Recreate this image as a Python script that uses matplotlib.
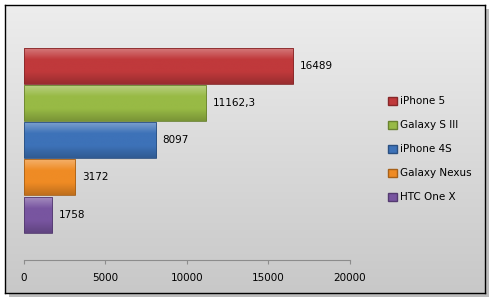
import numpy as np
import matplotlib.pyplot as plt
from matplotlib.patches import Rectangle, Patch
from matplotlib.colors import LinearSegmentedColormap, to_rgb

# data
phones = ['iPhone 5', 'Galaxy S III', 'iPhone 4S', 'Galaxy Nexus', 'HTC One X']
scores = [16489, 11162.3, 8097, 3172, 1758]
colors = ['#c0393b', '#98ba45', '#3d72b8', '#ef8b24', '#7855a0']
xticks = [0, 5000, 10000, 15000, 20000]


def shade(c, f):
    r = np.array(to_rgb(c))
    if f > 0:
        return tuple(r + (1 - r) * f)
    return tuple(r * (1 + f))


W, H = 497, 300
fig = plt.figure(figsize=(W / 100, H / 100), dpi=100)
fig.patch.set_facecolor('white')

# shadow axes behind frame
sh = fig.add_axes([9 / W, 3 / H, 480 / W, 288 / H], zorder=-2)
sh.set_facecolor('#bdbdbd')
sh.set_xticks([])
sh.set_yticks([])
for s in sh.spines.values():
    s.set_visible(False)

# gradient frame
bg = fig.add_axes([5 / W, 7 / H, 480 / W, 288 / H], zorder=-1)
grad = np.linspace(0, 1, 256).reshape(-1, 1)
bg_cmap = LinearSegmentedColormap.from_list('bg', ['#ededed', '#c8c8c8'])
bg.imshow(grad, aspect='auto', cmap=bg_cmap, extent=[0, 1, 0, 1], origin='upper')
bg.set_xticks([])
bg.set_yticks([])
for s in bg.spines.values():
    s.set_color('black')
    s.set_linewidth(1)

ax = fig.add_axes([23.5 / W, (300 - 259.5) / H, (350 - 23.5) / W, (259.5 - 21) / H])
ax.patch.set_alpha(0)

ypos = np.arange(len(phones))[::-1]
bh = 0.97
for y, v, c in zip(ypos, scores, colors):
    cm = LinearSegmentedColormap.from_list('b', [shade(c, 0.35), c, c, shade(c, -0.2)])
    im = ax.imshow(np.linspace(0, 1, 64).reshape(-1, 1), aspect='auto', cmap=cm,
                   extent=[0, v, y - bh / 2, y + bh / 2], origin='upper', zorder=2)
    rect = Rectangle((0, y - bh / 2), v, bh, facecolor='none',
                     edgecolor=shade(c, -0.3), linewidth=0.6, zorder=3)
    ax.add_patch(rect)
    im.set_clip_path(rect)
    lab = ('%g' % v).replace('.', ',')
    ax.annotate(lab, (v, y), xytext=(5, 0), textcoords='offset points',
                va='center', ha='left', fontsize=7.5, color='black')

ax.set_xlim(0, 20000)
ax.set_ylim(-1.21, 4 + 1.21)
ax.set_xticks(xticks)
ax.set_xticklabels([str(t) for t in xticks], fontsize=7.5)
ax.set_yticks([])
for s in ['left', 'right', 'top']:
    ax.spines[s].set_visible(False)
ax.spines['bottom'].set_color('#8c8c8c')
ax.tick_params(axis='x', direction='out', length=3, color='#8c8c8c', pad=7)

handles = [Patch(facecolor=c, edgecolor=shade(c, -0.3), label=p) for p, c in zip(phones, colors)]
fig.legend(handles=handles, loc='upper left', bbox_to_anchor=(384 / W, 1 - 92 / H),
           frameon=False, fontsize=7.5, handlelength=0.8, handleheight=0.8,
           handletextpad=0.3, labelspacing=1.35, borderaxespad=0)

fig.savefig('out.png', dpi=100)
